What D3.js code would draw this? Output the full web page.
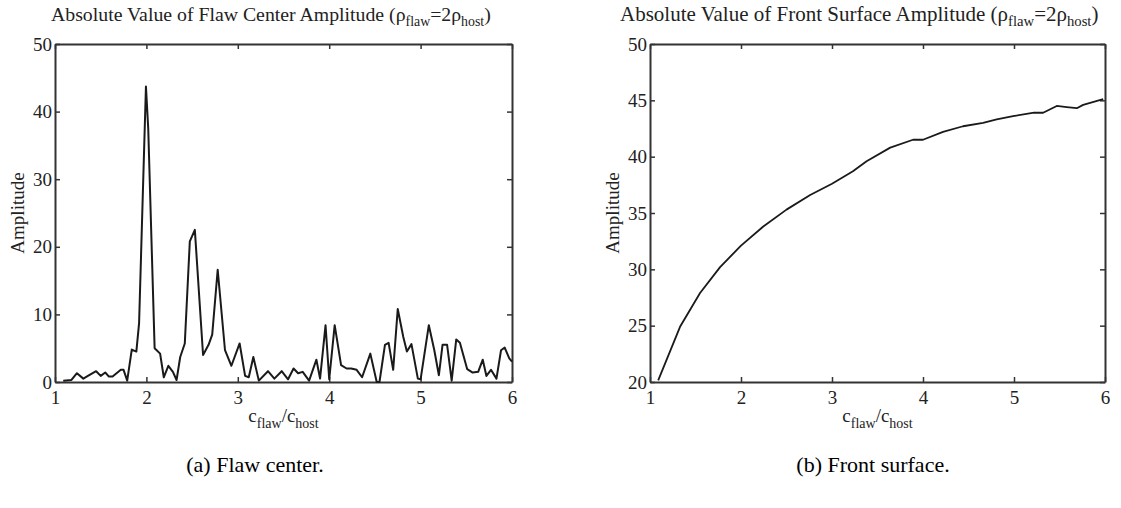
<!DOCTYPE html>
<html>
<head>
<meta charset="utf-8">
<script src="https://cdn.jsdelivr.net/npm/d3@7"></script>
<style>
  body { margin: 0; background: #fff; }
</style>
</head>
<body>
<script>
"use strict"

const FONT = "'Liberation Serif', 'Times New Roman', Times, 'DejaVu Serif', serif"

// flaw center amplitude vs c_flaw/c_host
const centerX = [1.09,1.18,1.24,1.31,1.36,1.45,1.50,1.55,1.59,1.63,1.72,1.75,1.79,1.84,1.89,1.92,1.995,2.02,2.09,2.15,2.19,2.24,2.29,2.33,2.37,2.42,2.475,2.53,2.62,2.68,2.72,2.78,2.86,2.93,3.02,3.08,3.12,3.17,3.23,3.33,3.40,3.48,3.55,3.61,3.66,3.71,3.78,3.86,3.90,3.96,4.00,4.06,4.13,4.19,4.24,4.30,4.36,4.45,4.52,4.55,4.61,4.65,4.70,4.75,4.81,4.85,4.90,4.97,5.00,5.09,5.15,5.20,5.24,5.29,5.34,5.39,5.43,5.51,5.57,5.63,5.68,5.72,5.77,5.83,5.88,5.92,5.97,6.00]
const centerY = [0.2,0.3,1.3,0.5,0.9,1.6,0.9,1.4,0.8,0.8,1.8,1.8,0.2,4.8,4.5,8.7,43.7,37.5,5.0,4.2,0.7,2.4,1.5,0.3,3.7,5.7,20.8,22.5,4.0,5.5,7.0,16.6,4.7,2.4,5.7,0.9,0.7,3.7,0.2,1.6,0.5,1.6,0.4,2.0,1.3,1.5,0.2,3.3,0.5,8.4,0.4,8.4,2.5,2.0,2.0,1.8,0.7,4.2,0.0,0.0,5.5,5.8,1.8,10.8,6.7,4.5,5.6,0.5,0.4,8.4,4.7,1.0,5.5,5.5,0.2,6.3,5.8,1.9,1.4,1.5,3.3,0.9,1.8,0.5,4.7,5.1,3.5,3.0]

// front surface amplitude
const frontX = [1.09,1.33,1.55,1.77,2.00,2.245,2.50,2.76,3.00,3.23,3.38,3.64,3.89,4.00,4.22,4.44,4.66,4.81,4.99,5.22,5.32,5.47,5.58,5.69,5.76,5.98]
const frontY = [20.15,24.9,27.9,30.2,32.1,33.8,35.3,36.6,37.6,38.7,39.6,40.8,41.5,41.5,42.2,42.7,43.0,43.3,43.6,43.9,43.9,44.5,44.4,44.3,44.6,45.1]

const xTicks = [1,2,3,4,5,6]
const centerTicks = [0,10,20,30,40,50]
const frontTicks = [20,25,30,35,40,45,50]

const W = 1121, H = 508
const svg = d3.select('body').append('svg').attr('width', W).attr('height', H)
   .attr('font-family', FONT)

function panel(o) {
   const x = d3.scaleLinear([1, 6], [o.left, o.right])
   const y = d3.scaleLinear(o.yDomain, [o.bottom, o.top])
   const g = svg.append('g')

   const style = sel => {
      sel.attr('font-family', FONT)
      sel.select('.domain').attr('stroke', '#333').attr('stroke-width', 2)
      sel.selectAll('.tick line').attr('stroke', '#333').attr('stroke-width', 1.5)
      sel.selectAll('.tick text').attr('font-size', 19).attr('fill', '#222')
   }

   g.append('g').attr('transform', `translate(0,${o.bottom})`)
      .call(d3.axisBottom(x).tickValues(xTicks).tickSizeInner(-5).tickSizeOuter(0).tickPadding(9).tickFormat(d3.format('d')))
      .call(style)
   g.append('g').attr('transform', `translate(0,${o.top})`)
      .call(d3.axisTop(x).tickValues(xTicks).tickSizeInner(-5).tickSizeOuter(0).tickFormat(''))
      .call(style)
   g.append('g').attr('transform', `translate(${o.left},0)`)
      .call(d3.axisLeft(y).tickValues(o.yTicks).tickSizeInner(-5).tickSizeOuter(0).tickPadding(3).tickFormat(d3.format('d')))
      .call(style)
   g.append('g').attr('transform', `translate(${o.right},0)`)
      .call(d3.axisRight(y).tickValues(o.yTicks).tickSizeInner(-5).tickSizeOuter(0).tickFormat(''))
      .call(style)

   const line = d3.line().x(i => x(o.xs[i])).y(i => y(o.ys[i]))
   g.append('path')
      .attr('d', line(d3.range(o.xs.length)))
      .attr('fill', 'none')
      .attr('stroke', '#1a1a1a')
      .attr('stroke-width', o.lw)
      .attr('stroke-linejoin', 'round')

   const mid = (o.left + o.right) / 2

   // title
   const sub = o.titleSize * 0.7
   const t = g.append('text').attr('x', o.titleX).attr('y', 21)
      .attr('font-size', o.titleSize).attr('fill', '#222')
   t.append('tspan').text(`Absolute Value of ${o.name} Amplitude (ρ`)
   t.append('tspan').attr('dy', 5).attr('font-size', sub).text('flaw')
   t.append('tspan').attr('dy', -5).text('=2ρ')
   t.append('tspan').attr('dy', 5).attr('font-size', sub).text('host')
   t.append('tspan').attr('dy', -5).text(')')

   // x label
   const xl = g.append('text').attr('x', mid).attr('y', 422)
      .attr('text-anchor', 'middle').attr('font-size', 19).attr('fill', '#222')
   xl.append('tspan').text('c')
   xl.append('tspan').attr('dy', 6).attr('font-size', 14).text('flaw')
   xl.append('tspan').attr('dy', -6).text('/c')
   xl.append('tspan').attr('dy', 6).attr('font-size', 14).text('host')

   // y label
   g.append('text')
      .attr('transform', `translate(${o.left - 31},${(o.top + o.bottom) / 2}) rotate(-90)`)
      .attr('text-anchor', 'middle').attr('font-size', 19).attr('fill', '#222')
      .text('Amplitude')

   // caption
   g.append('text').attr('x', o.capX).attr('y', 472)
      .attr('text-anchor', 'middle').attr('font-size', 22).attr('fill', '#000')
      .text(o.caption)
}

panel({ left: 55, right: 512, top: 44, bottom: 382, yDomain: [0, 50], yTicks: centerTicks,
   xs: centerX, ys: centerY, lw: 2, name: 'Flaw Center', caption: '(a) Flaw center.', capX: 255,
   titleX: 51, titleSize: 19.8 })
panel({ left: 650, right: 1105, top: 44, bottom: 382, yDomain: [20, 50], yTicks: frontTicks,
   xs: frontX, ys: frontY, lw: 1.8, name: 'Front Surface', caption: '(b) Front surface.', capX: 873,
   titleX: 620, titleSize: 21 })
</script>
</body>
</html>
